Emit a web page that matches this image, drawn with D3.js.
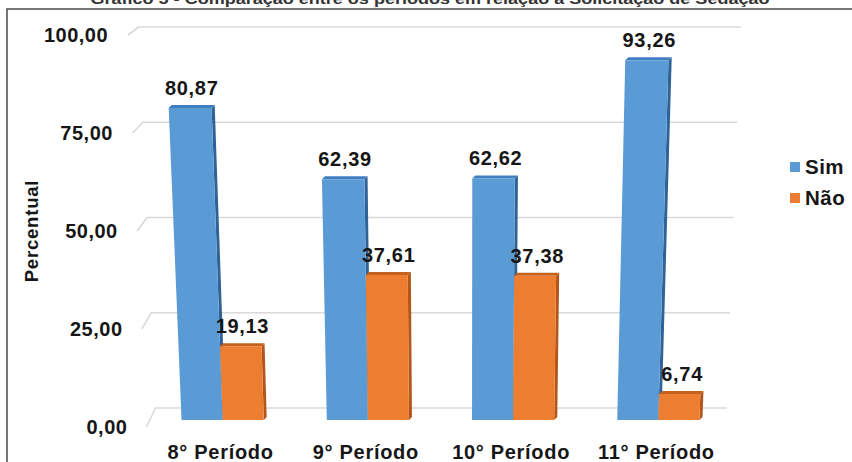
<!DOCTYPE html>
<html>
<head>
<meta charset="utf-8">
<script src="https://cdn.jsdelivr.net/npm/d3@7"></script>
<style>
  html, body { margin: 0; padding: 0; background: #fff; }
  svg { display: block; font-family: "Liberation Sans", Arial, sans-serif; }
</style>
</head>
<body>
<svg id="chart" width="852" height="462"></svg>
<script>
// Chart data
const title = "Gráfico 5 - Comparação entre os períodos em relação à Solicitação de Sedação";
const categories = ["8° Período", "9° Período", "10° Período", "11° Período"];
const seriesNames = ["Sim", "Não"];
const simValues = [80.87, 62.39, 62.62, 93.26];
const naoValues = [19.13, 37.61, 37.38, 6.74];
const tickValues = [0, 25, 50, 75, 100];
const yAxisTitle = "Percentual";

const seriesValues = [simValues, naoValues];
const palette = {
  Sim: { front: "#5b9bd5", top: "#3f7fc0", side: "#2f6296" },
  "Não": { front: "#ed7d31", top: "#c4611f", side: "#b2561a" }
};

const svg = d3.select("#chart");
const fmt = v => d3.format(".2f")(v).replace(".", ",");

// Slight keystone: the scene widens toward the top, converging at a far point below.
const VX = 465, VY = 7285, BASE = 419;
const K = (x, y) => [VX + (x - VX) * (VY - y) / (VY - BASE), y];
const poly = pts => pts.map(p => K(p[0], p[1]).join(",")).join(" ");

// Scales
const x = d3.scaleBand().domain(categories).range([150, 731])
  .paddingInner(0.434).paddingOuter(0.217);
const xs = d3.scaleBand().domain(seriesNames).range([0, x.bandwidth()]);
const yFront = d3.scaleLinear().domain([0, 100]).range([420, 34.3]);   // bar faces
const yBack = d3.scaleLinear().domain([0, 100]).range([408, 27]);      // back wall gridlines
const yLabel = d3.scaleLinear().domain([0, 100]).range([427, 35]);     // tick labels on the floor edge
const gridX0 = 156, gridX1 = 726, connX = 146, labelX = 127;
const DEPTH_X = 3, DEPTH_Y = 3;
const textStyle = sel => sel.attr("font-weight", "bold").attr("fill", "#161616");

// Frame
svg.append("rect").attr("x", 7).attr("y", 9).attr("width", 880).attr("height", 480)
  .attr("fill", "none").attr("stroke", "#4a4a4a").attr("stroke-width", 1.5);

// Title (sits above the frame)
svg.append("text").attr("x", 430).attr("y", 4)
  .attr("text-anchor", "middle").attr("font-size", 15).attr("font-weight", "bold")
  .attr("fill", "#333").attr("textLength", 679).attr("lengthAdjust", "spacingAndGlyphs")
  .text(title);

// Gridlines and their slanted connectors
const grid = svg.append("g").attr("stroke", "#d9d9d9").attr("stroke-width", 1.6).attr("fill", "none");
tickValues.forEach(t => {
  const a = K(connX, yLabel(t)), b = K(gridX0, yBack(t)), c = K(gridX1, yBack(t));
  grid.append("polyline").attr("points", [a, b, c].map(p => p.join(",")).join(" "));
});

// Tick labels
svg.append("g").selectAll("text").data(tickValues).join("text")
  .attr("x", d => K(labelX, yLabel(d))[0])
  .attr("y", d => yLabel(d))
  .attr("dy", "0.36em")
  .attr("text-anchor", "end")
  .attr("font-size", 20).attr("letter-spacing", 0.5)
  .call(textStyle)
  .text(d => fmt(d));

// Axis title
svg.append("text")
  .attr("transform", "translate(31,231) rotate(-90)")
  .attr("text-anchor", "middle").attr("dy", "0.36em")
  .attr("font-size", 18.5).attr("letter-spacing", 0.8)
  .call(textStyle)
  .text(yAxisTitle);

// 3D columns
const bars = svg.append("g");
categories.forEach((cat, i) => {
  seriesNames.forEach((s, j) => {
    const v = seriesValues[j][i];
    const x0 = x(cat) + xs(s), x1 = x0 + xs.bandwidth();
    const yt = yFront(v), yb = yFront(0);
    const col = palette[s];
    const g = bars.append("g");
    // right side face
    g.append("polygon").attr("fill", col.side)
      .attr("points", poly([[x1, yt], [x1 + DEPTH_X, yt - DEPTH_Y], [x1 + DEPTH_X, yb - DEPTH_Y], [x1, yb]]));
    // top face
    g.append("polygon").attr("fill", col.top)
      .attr("points", poly([[x0, yt], [x1, yt], [x1 + DEPTH_X, yt - DEPTH_Y], [x0 + DEPTH_X, yt - DEPTH_Y]]));
    // front face
    g.append("polygon").attr("fill", col.front)
      .attr("points", poly([[x0, yt], [x1, yt], [x1, yb], [x0, yb]]));
    // value label
    const lp = K((x0 + x1) / 2 + 2, yt - DEPTH_Y - 10);
    bars.append("text")
      .attr("x", lp[0]).attr("y", lp[1])
      .attr("text-anchor", "middle")
      .attr("font-size", 20).attr("letter-spacing", 0.7)
      .call(textStyle)
      .text(fmt(v));
  });
});

// Category labels
svg.append("g").selectAll("text").data(categories).join("text")
  .attr("x", d => x(d) + x.bandwidth() / 2 - 2)
  .attr("y", 452).attr("dy", "0.36em")
  .attr("text-anchor", "middle")
  .attr("font-size", 20).attr("letter-spacing", 0.7)
  .call(textStyle)
  .text(d => d);

// Legend
const legend = svg.append("g").selectAll("g").data(seriesNames).join("g")
  .attr("transform", (d, i) => `translate(790,${162 + i * 31})`);
legend.append("rect").attr("width", 10).attr("height", 10).attr("fill", d => palette[d].front);
legend.append("text").attr("x", 15).attr("y", 5).attr("dy", "0.36em")
  .attr("font-size", 20.5).attr("letter-spacing", 0.5)
  .call(textStyle)
  .text(d => d);
</script>
</body>
</html>
